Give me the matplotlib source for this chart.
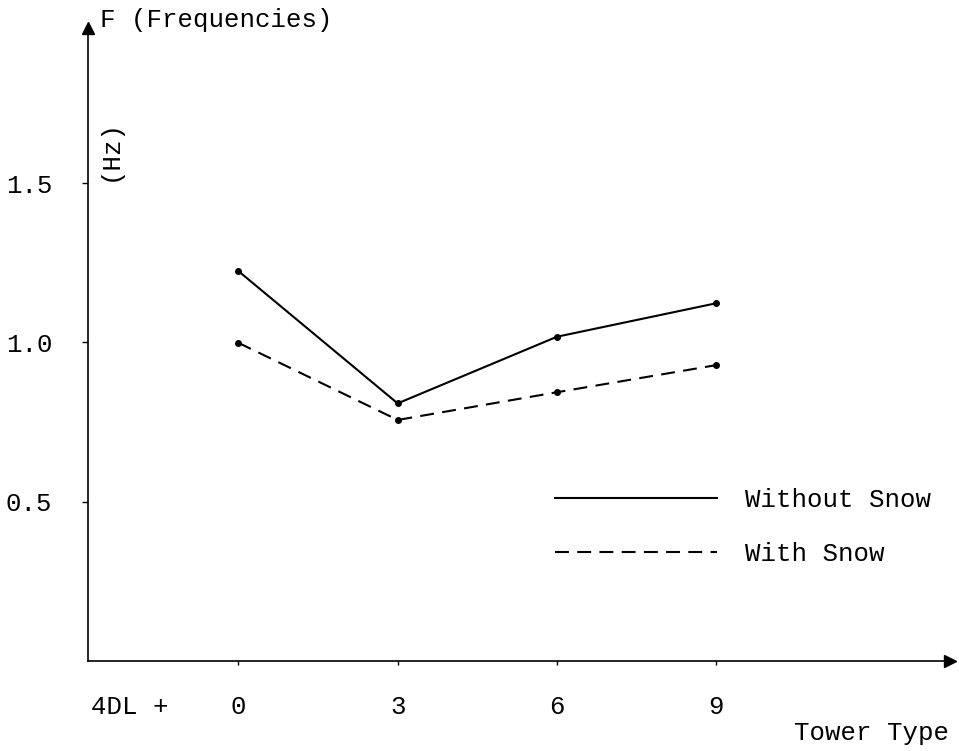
import matplotlib
matplotlib.use("Agg")
import matplotlib.pyplot as plt

# ---- data ----
tower_types = [0, 3, 6, 9]
tower_labels = ["0", "3", "6", "9"]
without_snow = [1.224, 0.809, 1.018, 1.123]
with_snow = [0.999, 0.757, 0.844, 0.929]
y_ticks = [0.5, 1.0, 1.5]
y_tick_labels = ["0.5", "1.0", "1.5"]
prefix_label = "4DL +"

plt.rcParams['font.family'] = ['Liberation Mono', 'DejaVu Sans Mono']
plt.rcParams['lines.scale_dashes'] = False

W, H = 959, 751
fig = plt.figure(figsize=(W / 100, H / 100), dpi=100)
ax = fig.add_axes([88.3 / W, (H - 661.4) / H, (950 - 88.3) / W, (661.4 - 28) / H])
ax.set_xlim(-2.825, 13.40)
ax.set_ylim(0, 1.986)

fs = 18.5
ax.plot(tower_types, without_snow, color='black', lw=1.5, marker='o', ms=4,
        label='Without Snow')
ax.plot(tower_types, with_snow, color='black', lw=1.5, marker='o', ms=4,
        dashes=(10, 6), label='With Snow')

for s in ['top', 'right']:
    ax.spines[s].set_visible(False)
for s in ['left', 'bottom']:
    ax.spines[s].set_linewidth(1.2)

# arrow heads
ax.plot(1, 0, marker='>', color='black', ms=9, transform=ax.transAxes, clip_on=False)
ax.plot(0, 1, marker='^', color='black', ms=9, transform=ax.transAxes, clip_on=False)

ax.set_yticks(y_ticks)
ax.set_yticklabels(y_tick_labels, fontsize=fs)
ax.tick_params(axis='y', direction='out', length=4, width=1, pad=22)

ax.set_xticks([-2.05] + tower_types)
ax.set_xticklabels([prefix_label] + tower_labels, fontsize=fs)
ax.tick_params(axis='x', direction='out', length=3, width=1, pad=21)
ax.xaxis.get_major_ticks()[0].tick1line.set_visible(False)

leg = ax.legend(loc='upper left', bbox_to_anchor=((555 - 88.3) / (950 - 88.3), (661.4 - 488) / (661.4 - 28)),
                frameon=False, fontsize=fs, handlelength=6.3, handletextpad=1.1,
                labelspacing=1.15, borderpad=0, borderaxespad=0)
for h in leg.legend_handles:
    h.set_marker('')

fig.text(100 / W, 1 - 20 / H, "F (Frequencies)", fontsize=fs, ha='left', va='center')
fig.text(110 / W, 1 - 150 / H, "(Hz)", fontsize=fs, rotation=90, ha='center', va='center')
fig.text(871 / W, 1 - 733 / H, "Tower Type", fontsize=fs, ha='center', va='center')

fig.savefig("out.png", dpi=100, facecolor='white')
